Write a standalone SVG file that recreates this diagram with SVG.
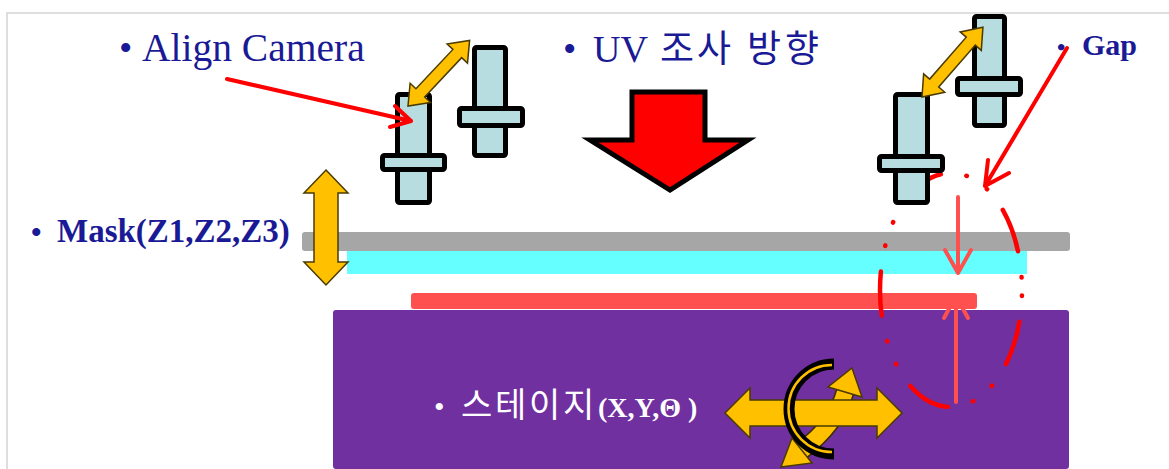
<svg xmlns="http://www.w3.org/2000/svg" width="1169" height="469" viewBox="0 0 1169 469">
  <style>
    .lbl { fill: #1a1a96; }
    .body { fill: #b7dde0; stroke: #000; stroke-width: 5; }
    .yarrow { fill: #ffc000; stroke: #4a3b00; stroke-width: 1.5; stroke-linejoin: miter; }
    .ptr { fill: none; stroke: #ff0000; stroke-width: 4; stroke-linecap: round; stroke-linejoin: round; }
    .gapline { fill: none; stroke: #ff5050; stroke-width: 4; stroke-linecap: round; stroke-linejoin: round; }
  </style>
  <defs>
    <!-- horizontal double-headed arrow, tip at origin, length 90 -->
    <polygon id="dbl90" points="0,0 18,-14 18,-6 72,-6 72,-14 90,0 72,14 72,6 18,6 18,14"/>
  </defs>

  <rect width="1169" height="469" fill="#ffffff"/>
  <!-- page frame -->
  <path d="M7,469 V13 H1169" fill="none" stroke="#d4d4d4" stroke-width="1.5"/>

  <!-- mask / glass / stage layers -->
  <g id="layers">
    <rect x="302" y="232" width="768" height="19" rx="3" fill="#a6a6a6"/>
    <rect x="347" y="251" width="680" height="23" fill="#66ffff"/>
    <rect x="411" y="293" width="566" height="16" rx="3" fill="#ff5050"/>
    <rect x="333" y="310" width="736" height="159" rx="3" fill="#7030a0"/>
  </g>

  <!-- stage label and motion arrows -->
  <g id="stage">
    <text y="417" fill="#ffffff" font-family="'Liberation Serif', serif">
      <tspan x="434" font-size="30">•</tspan>
      <tspan x="461 495 529 563" font-size="34" font-family="'Noto Sans CJK KR', sans-serif">스테이지</tspan>
      <tspan x="598" font-size="28" font-weight="bold">(X,Y,Θ )</tspan>
    </text>
    <!-- rotation band behind -->
    <path d="M845,392 Q836,425 801,451" fill="none" stroke="#3a2e00" stroke-width="19"/>
    <path d="M845,392 Q836,425 801,451" fill="none" stroke="#ffc000" stroke-width="16"/>
    <polygon class="yarrow" points="852,368 862,397 828,387"/>
    <polygon class="yarrow" points="781,467 812,463 792,438"/>
    <!-- X/Y arrow -->
    <polygon class="yarrow" stroke="#000" stroke-width="2" points="725,413 750,388 750,400 877,400 877,388 902,413 877,438 877,426 750,426 750,438"/>
    <!-- theta arc -->
    <path d="M834,364 A45,45 0 0 0 834,454" fill="none" stroke="#000" stroke-width="11"/>
    <path d="M832,365 A43,43 0 0 0 832,452" fill="none" stroke="#ffc000" stroke-width="2.5"/>
  </g>

  <!-- gap ellipse and gap measurement -->
  <g id="gap">
    <ellipse cx="951" cy="290" rx="71" ry="117" fill="none" stroke="#ff0000" stroke-width="4.5" stroke-linecap="round" stroke-dasharray="44 26 0.5 24 0.5 26" stroke-dashoffset="89"/>
    <path class="gapline" d="M958,197 V272 M945,250 L958,273 L971,250"/>
    <path class="gapline" d="M956,402 V297 M944,318 L956,296 L968,318"/>
  </g>

  <!-- left camera pair -->
  <g id="align-camera-left">
    <rect class="body" x="397.5" y="94.5" width="32" height="108" rx="2"/>
    <rect class="body" x="382.5" y="155.5" width="62" height="14" rx="2"/>
    <rect class="body" x="474.5" y="47.5" width="31" height="108" rx="2"/>
    <rect class="body" x="459.5" y="108.5" width="63" height="17" rx="2"/>
    <use href="#dbl90" class="yarrow" transform="translate(408,106) rotate(-46.8)"/>
  </g>

  <!-- right camera pair -->
  <g id="align-camera-right">
    <rect class="body" x="895.5" y="94.5" width="32" height="108" rx="2"/>
    <rect class="body" x="879.5" y="156.5" width="63" height="14" rx="2"/>
    <rect class="body" x="974.5" y="16.5" width="30" height="109" rx="2"/>
    <rect class="body" x="957.5" y="78.5" width="63" height="16" rx="2"/>
    <use href="#dbl90" class="yarrow" transform="translate(922,97) rotate(-48.9) scale(1.03,1)"/>
  </g>

  <!-- UV direction -->
  <g id="uv-direction">
    <text class="lbl" y="62" font-family="'Liberation Serif', 'Times New Roman', serif">
      <tspan x="563" font-size="38">•</tspan>
      <tspan x="593" font-size="38">UV</tspan>
      <tspan x="660 697 747 785" font-size="37" font-family="'Noto Sans CJK KR', sans-serif">조사방향</tspan>
    </text>
    <polygon points="632,92 705,92 705,140 748,140 670,190 590,140 632,140" fill="#ff0000" stroke="#000" stroke-width="5" stroke-linejoin="miter"/>
  </g>

  <!-- mask Z axes -->
  <g id="mask">
    <text class="lbl" y="242" font-weight="bold" font-family="'Liberation Serif', 'Times New Roman', serif">
      <tspan x="31" font-size="30">•</tspan>
      <tspan x="57" font-size="33">Mask(Z1,Z2,Z3)</tspan>
    </text>
    <polygon class="yarrow" points="326,170 348,193 338,193 338,262 348,262 326,285 304,262 314,262 314,193 304,193"/>
  </g>

  <!-- callout labels -->
  <g id="align-camera-label">
    <text class="lbl" y="61" font-family="'Liberation Serif', 'Times New Roman', serif">
      <tspan x="119" font-size="38">•</tspan>
      <tspan x="142" font-size="39.5">Align Camera</tspan>
    </text>
  </g>
  <g id="gap-label">
    <text class="lbl" y="55" font-weight="bold" font-family="'Liberation Serif', 'Times New Roman', serif">
      <tspan x="1057" font-size="24">•</tspan>
      <tspan x="1082" font-size="30">Gap</tspan>
    </text>
  </g>

  <!-- callout pointers -->
  <g id="connectors">
    <path class="ptr" d="M227,79 L411,121 M395,106 L411,121 L390,127"/>
    <path class="ptr" d="M1067,48 L985,186 M988,160 L985,186 L1009,173"/>
  </g>
</svg>
